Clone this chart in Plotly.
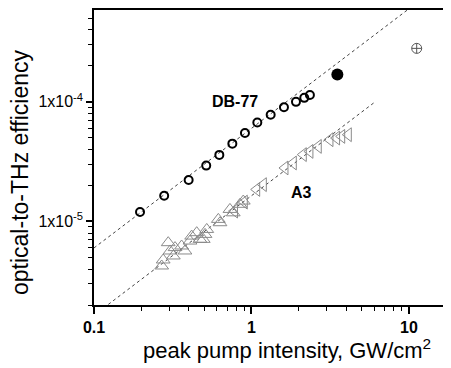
import math
import plotly.graph_objects as go

# DB-77 (open circles)
db_x = [0.196, 0.279, 0.399, 0.516, 0.625, 0.756, 0.909, 1.089, 1.324, 1.608, 1.917, 2.164, 2.35]
db_y = [1.2e-5, 1.64e-5, 2.22e-5, 2.93e-5, 3.6e-5, 4.47e-5, 5.48e-5, 6.72e-5, 7.8e-5, 9.0e-5, 1.0e-4, 1.08e-4, 1.14e-4]
# DB-77 filled point
dbf_x = [3.51]
dbf_y = [1.69e-4]
# crossed circle point
cr_x = [11.2]
cr_y = [2.8e-4]

# A3 (up triangles)
a3u_x = [0.269, 0.275, 0.296, 0.304, 0.327, 0.319, 0.360, 0.378, 0.417, 0.407, 0.449, 0.471,
         0.507, 0.520, 0.494, 0.616, 0.631, 0.730, 0.766, 0.845, 0.887]
a3u_y = [4.24e-6, 4.76e-6, 6.64e-6, 5.66e-6, 6.04e-6, 5.14e-6, 6.23e-6, 5.66e-6, 7.54e-6, 6.85e-6,
         8.05e-6, 7.08e-6, 7.79e-6, 8.57e-6, 7.08e-6, 1.04e-5, 9.75e-6, 1.26e-5, 1.18e-5, 1.39e-5, 1.48e-5]
# A3 (left triangles)
a3l_x = [0.78, 0.90, 1.079, 1.189, 1.632, 1.843, 2.133, 2.35, 2.655, 3.15, 3.47, 3.74, 4.12]
a3l_y = [1.22e-5, 1.45e-5, 1.85e-5, 2.03e-5, 2.80e-5, 3.08e-5, 3.62e-5, 3.85e-5, 4.24e-5, 4.82e-5,
         4.98e-5, 5.14e-5, 5.31e-5]

# fit lines
fit_db_x = [0.1, 10.5]
fit_db_y = [6.0e-6, 6.3e-4]
fit_a3_x = [0.1, 6.1]
fit_a3_y = [1.64e-6, 1.0e-4]

# labels
label_text = ["<b>DB-77</b>", "<b>A3</b>"]
label_x = [0.786, 2.08]
label_y = [1.0e-4, 1.75e-5]

x_ticks = [0.1, 1, 10]
x_ticktext = ["0.1", "1", "10"]
y_ticks = [1e-5, 1e-4]
y_ticktext = ["1x10<sup>-5</sup>", "1x10<sup>-4</sup>"]

FONT = "Liberation Sans, Arial, sans-serif"

# page has an 8px body margin: figure is offset by 8px
W, H = 443, 360
ML, MT, MB = 86, 2, 63
PW, PH = W - ML, H - MT - MB

fig = go.Figure()
fig.add_trace(go.Scatter(x=fit_db_x, y=fit_db_y, mode="lines",
                         line=dict(color="#444", width=1, dash="dot"), showlegend=False))
fig.add_trace(go.Scatter(x=fit_a3_x, y=fit_a3_y, mode="lines",
                         line=dict(color="#444", width=1, dash="dot"), showlegend=False))
fig.add_trace(go.Scatter(x=a3u_x, y=a3u_y, mode="markers",
                         marker=dict(symbol="triangle-up-open", size=12, color="#8a8a8a",
                                     line=dict(width=1)), showlegend=False))
fig.add_trace(go.Scatter(x=a3l_x, y=a3l_y, mode="markers",
                         marker=dict(symbol="triangle-left-open", size=12, color="#8a8a8a",
                                     line=dict(width=1)), showlegend=False))
fig.add_trace(go.Scatter(x=db_x, y=db_y, mode="markers",
                         marker=dict(symbol="circle-open", size=8, color="black",
                                     line=dict(width=2)), showlegend=False))
fig.add_trace(go.Scatter(x=dbf_x, y=dbf_y, mode="markers",
                         marker=dict(symbol="circle", size=12, color="black"), showlegend=False))
fig.add_trace(go.Scatter(x=cr_x, y=cr_y, mode="markers",
                         marker=dict(symbol="circle-cross-open", size=10, color="#555",
                                     line=dict(width=1)), showlegend=False))

for t, lx, ly in zip(label_text, label_x, label_y):
    fig.add_annotation(x=math.log10(lx), y=math.log10(ly), xref="x", yref="y", text=t,
                       showarrow=False, font=dict(family=FONT, size=16, color="black"))

# x-axis title (page centre ~ (287, 349))
fig.add_annotation(x=(287 - 8 - ML) / PW, y=-(349 - 8 - (MT + PH)) / PH, xref="paper", yref="paper",
                   text="peak pump intensity, GW/cm<sup>2</sup>", showarrow=False,
                   xanchor="center", yanchor="middle",
                   font=dict(family=FONT, size=22, color="black"))
# y-axis title (page centre ~ (20, 173))
fig.add_annotation(x=(20 - 8 - ML) / PW, y=1 - (173 - 8 - MT) / PH, xref="paper", yref="paper",
                   text="optical-to-THz efficiency", showarrow=False, textangle=-90,
                   xanchor="center", yanchor="middle",
                   font=dict(family=FONT, size=23, color="black"))

minor_x = [0.2, 0.3, 0.4, 0.5, 0.6, 0.7, 0.8, 0.9, 2, 3, 4, 5, 6, 7, 8, 9]
minor_y = [2e-6, 3e-6, 4e-6, 5e-6, 6e-6, 7e-6, 8e-6, 9e-6,
           2e-5, 3e-5, 4e-5, 5e-5, 6e-5, 7e-5, 8e-5, 9e-5,
           2e-4, 3e-4, 4e-4, 5e-4]

fig.update_xaxes(type="log", range=[-1, 1.267], showline=True, linecolor="black", linewidth=1.5,
                 mirror=True, ticks="outside", ticklen=7, tickwidth=1.5, tickcolor="black",
                 tickvals=x_ticks, ticktext=x_ticktext, showgrid=False, zeroline=False,
                 automargin=False,
                 tickfont=dict(family=FONT, size=16, color="black", weight="bold"),
                 minor=dict(tickvals=minor_x, ticks="outside", ticklen=4, tickcolor="black",
                            tickwidth=1, showgrid=False))
fig.update_yaxes(type="log", range=[-5.699, -3.232], showline=True, linecolor="black", linewidth=1.5,
                 mirror=False, ticks="outside", ticklen=6, tickwidth=1.5, tickcolor="black",
                 tickvals=y_ticks, ticktext=y_ticktext, showgrid=False, zeroline=False,
                 automargin=False,
                 tickfont=dict(family=FONT, size=16, color="black"),
                 minor=dict(tickvals=minor_y, ticks="outside", ticklen=4, tickcolor="black",
                            tickwidth=1, showgrid=False))

fig.update_layout(width=W, height=H, margin=dict(l=ML, r=0, t=MT, b=MB),
                  plot_bgcolor="white", paper_bgcolor="white", showlegend=False)

fig.write_html("out.html")
